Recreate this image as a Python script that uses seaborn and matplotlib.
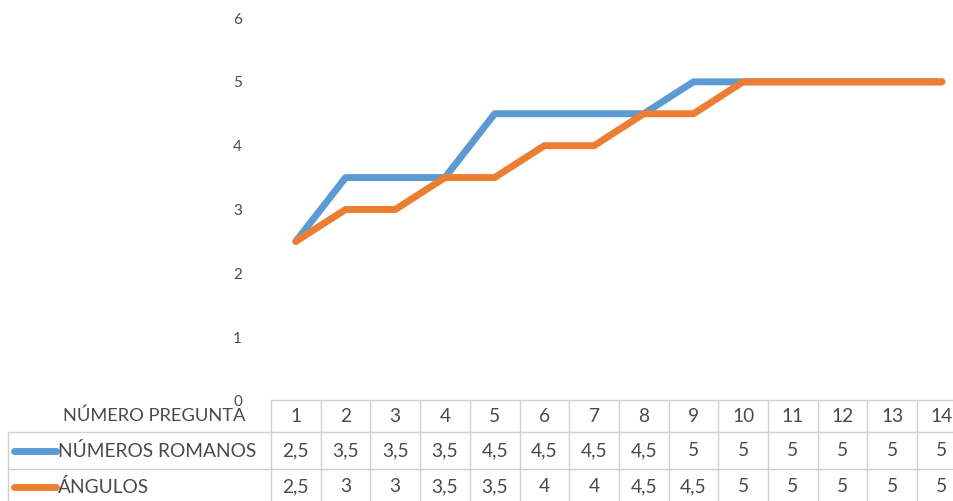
import matplotlib
matplotlib.use("Agg")
import matplotlib.pyplot as plt
import matplotlib.transforms as mtransforms
import numpy as np
import pandas as pd
import seaborn as sns

# Data
preguntas = list(range(1, 15))
romanos = [2.5, 3.5, 3.5, 3.5, 4.5, 4.5, 4.5, 4.5, 5, 5, 5, 5, 5, 5]
angulos = [2.5, 3, 3, 3.5, 3.5, 4, 4, 4.5, 4.5, 5, 5, 5, 5, 5]
series_names = ["NÚMEROS ROMANOS", "ÁNGULOS"]
header_label = "NÚMERO PREGUNTA"
y_ticks = [0, 1, 2, 3, 4, 5, 6]

colors = {"NÚMEROS ROMANOS": "#5B9BD5", "ÁNGULOS": "#ED7D31"}
text_color = "#4A4A4A"
grid_color = "#D0D0D0"

sns.set_style("white")
plt.rcParams["font.family"] = ["Lato", "DejaVu Sans"]

W, H = 954, 501
fig = plt.figure(figsize=(W / 100, H / 100), dpi=100)

# plot area in pixel terms
x_left_px = 271
col_w_px = 49.7
y_zero_px = 401   # from top
y_six_px = 18
ax = fig.add_axes([x_left_px / W, (H - y_zero_px) / H,
                   14 * col_w_px / W, (y_zero_px - y_six_px) / H])

df = pd.DataFrame({
    "pregunta": preguntas * 2,
    "valor": romanos + angulos,
    "serie": [series_names[0]] * len(preguntas) + [series_names[1]] * len(preguntas),
})
sns.lineplot(data=df, x="pregunta", y="valor", hue="serie", hue_order=series_names,
             palette=colors, linewidth=5.0, ax=ax, legend=False,
             solid_capstyle="round", solid_joinstyle="round")

ax.set_xlim(0.5, 14.5)
ax.set_ylim(0, 6)
ax.set_yticks(y_ticks)
ax.set_yticklabels([str(t) for t in y_ticks])
ax.set_xticks([])
ax.set_xlabel("")
ax.set_ylabel("")
for s in ax.spines.values():
    s.set_visible(False)
ax.tick_params(axis="y", length=0, pad=24, labelsize=11, labelcolor=text_color)
for lbl in ax.get_yticklabels():
    lbl.set_horizontalalignment("center")
ax.grid(False)

# blended transform: x in data units, y in figure pixels measured from top
def ypx(v):
    return (H - v) / H

trans = mtransforms.blended_transform_factory(ax.transData, fig.transFigure)
ftrans = fig.transFigure

top_y, row1_y, row2_y, bot_y = 400, 432, 469, 510
left_x = 8

# table grid
line_kw = dict(color=grid_color, linewidth=1.0, clip_on=False)
ax.add_line(plt.Line2D([0.5, 14.5], [ypx(top_y)] * 2, transform=trans, **line_kw))
for yy in (row1_y, row2_y):
    fig.add_artist(plt.Line2D([left_x / W, 1.0], [ypx(yy)] * 2, transform=ftrans,
                              color=grid_color, linewidth=1.0))
fig.add_artist(plt.Line2D([left_x / W] * 2, [ypx(row1_y), ypx(bot_y)], transform=ftrans,
                          color=grid_color, linewidth=1.0))
for k in range(15):
    ax.add_line(plt.Line2D([0.5 + k] * 2, [ypx(top_y), ypx(bot_y)], transform=trans, **line_kw))

# table text
fs = 13.8
hdr_c, r1_c, r2_c = 416, 451, 487
fig.text(246 / W, ypx(hdr_c), header_label, ha="right", va="center",
         fontsize=13.2, color=text_color)
for i, p in enumerate(preguntas):
    ax.text(p, ypx(hdr_c), str(p), transform=trans, ha="center", va="center",
            fontsize=fs, color=text_color)

def fmt(v):
    return (f"{v:g}").replace(".", ",")

for name, vals, yc in ((series_names[0], romanos, r1_c), (series_names[1], angulos, r2_c)):
    fig.add_artist(plt.Line2D([14 / W, 56 / W], [ypx(yc)] * 2, transform=ftrans,
                              color=colors[name], linewidth=5.0, solid_capstyle="round"))
    fig.text(58 / W, ypx(yc), name, ha="left", va="center", fontsize=fs, color=text_color)
    for p, v in zip(preguntas, vals):
        ax.text(p, ypx(yc), fmt(v), transform=trans, ha="center", va="center",
                fontsize=fs, color=text_color)

fig.savefig("out.png", dpi=100)
